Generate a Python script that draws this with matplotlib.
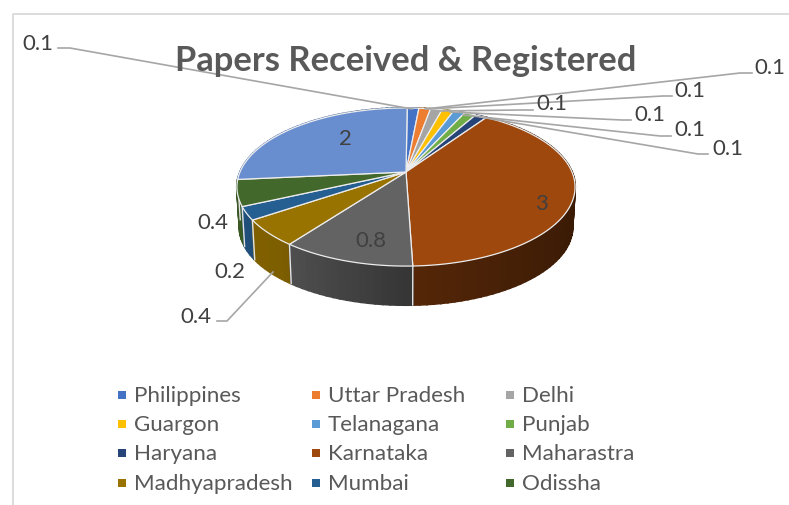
import matplotlib
matplotlib.use("Agg")
import matplotlib.pyplot as plt
import numpy as np

plt.rcParams["font.family"] = ["Lato", "DejaVu Sans"]

categories = ["Philippines", "Uttar Pradesh", "Delhi", "Guargon", "Telanagana", "Punjab",
              "Haryana", "Karnataka", "Maharastra", "Madhyapradesh", "Mumbai", "Odissha", ""]
values = [0.1, 0.1, 0.1, 0.1, 0.1, 0.1, 0.1, 3, 0.8, 0.4, 0.2, 0.4, 2]
colors = ["#4472C4", "#ED7D31", "#A5A5A5", "#FFC000", "#5B9BD5", "#70AD47", "#264478",
          "#9E480E", "#636363", "#997300", "#255E91", "#43682B", "#698ED0"]

# label position, then the leader line (None when the label sits without one)
label_pos = [(38, 44), (770, 68), (690, 91), (552, 104), (650, 115), (690, 130), (728, 149),
             (541, 204), (371, 241), (196, 317), (230, 272), (213, 223), (345, 139)]
leaders = {
    0: [(58, 49), (70, 49), (412, 110)],
    1: [(752, 74), (740, 74), (425, 110)],
    2: [(672, 97), (663, 97), (427, 110)],
    3: [(533, 111), (520, 111), (437, 112)],
    4: [(631, 121), (622, 121), (450, 113)],
    5: [(671, 137), (660, 137), (463, 116)],
    6: [(708, 155), (698, 155), (480, 118)],
    9: [(217, 322), (227, 322), (273, 273)],
}

CX, CY = 406, 173
KX, KY, PERSP = 166.0, 76.2, 0.19
DEPTH = 40.4
START = 0.5


def project(theta, drop=0.0, scale=1.0):
    u, v = np.sin(theta), np.cos(theta)
    w = 1.0 / (1.0 + PERSP * v)
    return CX + scale * KX * u * w, CY - KY * scale * v * w + drop


def shade(hex_color, u):
    f = np.interp(u, [-1, -0.65, 0.05, 1], [0.85, 0.82, 0.53, 0.36])
    return tuple(c * f for c in matplotlib.colors.to_rgb(hex_color))


fig = plt.figure(figsize=(7.89, 5.06), dpi=100)
ax = fig.add_axes([0, 0, 1, 1])
ax.set_xlim(0, 789)
ax.set_ylim(506, 0)
ax.axis("off")

# chart frame
ax.plot([13, 13, 789], [506, 15, 15], color="#D9D9D9", lw=1.3, zorder=1)

edges = np.radians(START + np.concatenate([[0], np.cumsum(values)]) / sum(values) * 360)

# side wall, back to front
quads = []
for i, col in enumerate(colors):
    t = np.linspace(edges[i], edges[i + 1], max(3, int(np.degrees(edges[i + 1] - edges[i])) // 2))
    for a, b in zip(t[:-1], t[1:]):
        quads.append((-np.cos((a + b) / 2), a, b, col))
for _, a, b, col in sorted(quads, key=lambda q: q[0]):
    arc = np.linspace(a, b, 5)
    x1, y1 = project(arc)
    x2, y2 = project(arc[::-1], DEPTH, 0.985)
    c = shade(col, np.sin((a + b) / 2))
    ax.fill(np.r_[x1, x2], np.r_[y1, y2], facecolor=c, edgecolor=c, lw=1.4, zorder=2)

# joints between the slices on the wall
for e in edges:
    if np.cos(e) < 0:
        x1, y1 = project(e)
        x2, y2 = project(e, DEPTH, 0.985)
        ax.plot([x1, x2], [y1, y2], color="#E4E4E4", lw=1.0, zorder=3)

# top face
for i, col in enumerate(colors):
    t = np.linspace(edges[i], edges[i + 1], 80)
    x, y = project(t)
    ax.fill(np.r_[CX, x], np.r_[CY, y], facecolor=col, edgecolor="#EDEDED", lw=0.9, zorder=4)

# data labels
for i, v in enumerate(values):
    ax.text(*label_pos[i], f"{v:g}", fontsize=16, color="#404040", ha="center", va="center", zorder=6)
    if i in leaders:
        xs, ys = zip(*leaders[i])
        ax.plot(xs, ys, color="#A6A6A6", lw=1.2, zorder=5)

ax.text(406, 61, "Papers Received & Registered", fontsize=24.8, fontweight="bold",
        color="#595959", ha="center", va="center", zorder=6)

# legend, three columns across
col_x = [122, 316, 510]
row_y = [396, 425, 454, 484]
for i, (name, col) in enumerate(zip(categories[:12], colors[:12])):
    r, c = divmod(i, 3)
    ax.scatter(col_x[c], row_y[r], marker="s", s=36, color=col, linewidths=0, zorder=6)
    ax.text(col_x[c] + 12, row_y[r], name, fontsize=16.1, color="#595959", va="center", zorder=6)

fig.savefig("out.png", dpi=100)
